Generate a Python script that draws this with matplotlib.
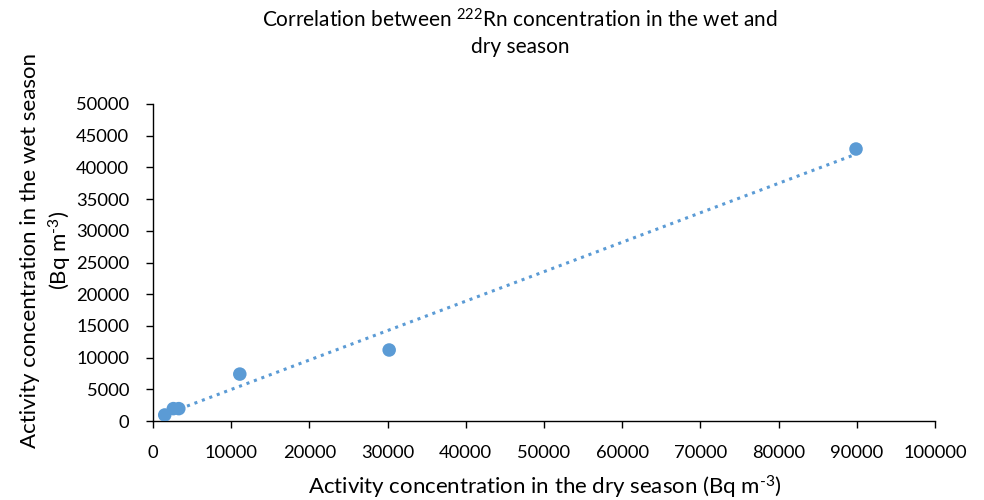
import matplotlib
matplotlib.use("Agg")
import matplotlib.pyplot as plt
import numpy as np

plt.rcParams['font.family'] = ['Lato', 'DejaVu Sans']
plt.rcParams['mathtext.default'] = 'regular'

dry = [1500, 2600, 3300, 11100, 30200, 89900]
wet = [950, 1950, 1950, 7400, 11200, 42900]
xticks = list(range(0, 100001, 10000))
yticks = list(range(0, 50001, 5000))
color = '#5B9BD5'

fig = plt.figure(figsize=(9.84, 5), dpi=100)
ax = fig.add_axes([153/984, 1-421/500, (935-153)/984, (421-104)/500])

x = np.array(dry, float); y = np.array(wet, float)
m, b = np.polyfit(x, y, 1)
xl = np.array([x.min(), x.max()])
ax.plot(xl, m*xl + b, linestyle=(0, (1, 1.6)), color=color, lw=2.2, zorder=2)
ax.scatter(x, y, s=95, color=color, zorder=3, edgecolors='none')

ax.set_xlim(0, 100000)
ax.set_ylim(0, 50000)
ax.set_xticks(xticks)
ax.set_yticks(yticks)
ax.set_xticklabels([str(t) for t in xticks])
ax.set_yticklabels([str(t) for t in yticks])
ax.tick_params(axis='both', labelsize=13.2, direction='out', length=5, width=1, colors='black')
ax.tick_params(axis='x', pad=12)
ax.tick_params(axis='y', pad=12)
for s in ['top', 'right']:
    ax.spines[s].set_visible(False)
for s in ['left', 'bottom']:
    ax.spines[s].set_linewidth(1)
    ax.spines[s].set_color('black')

sup = '$^{\u2010 3}$'
fig.text(520/984, 1-20/500, 'Correlation between $^{222}$Rn concentration in the wet and',
         ha='center', va='center', fontsize=15)
fig.text(520/984, 1-47/500, 'dry season', ha='center', va='center', fontsize=15)
fig.text(545/984, 1-487/500, 'Activity concentration in the dry season (Bq m' + sup + ')',
         ha='center', va='center', fontsize=16)
fig.text(30/984, 1-250/500, 'Activity concentration in the wet season',
         ha='center', va='center', rotation=90, fontsize=16)
fig.text(60/984, 1-250/500, '(Bq m' + sup + ')',
         ha='center', va='center', rotation=90, fontsize=16)

fig.savefig('out.png', dpi=100, facecolor='white')
